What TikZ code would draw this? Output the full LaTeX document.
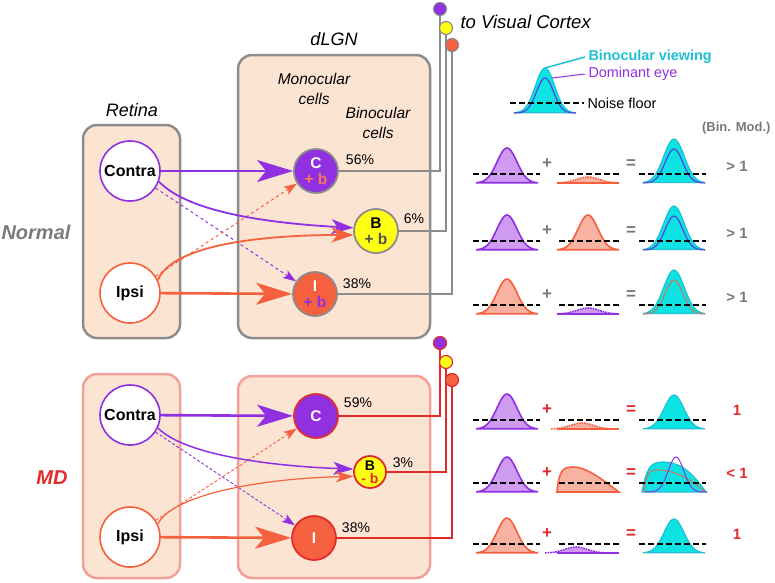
\documentclass[tikz,border=0pt]{standalone}
\usepackage{fontspec}
\setmainfont{Liberation Sans}
\usetikzlibrary{arrows.meta}

\definecolor{peach}{HTML}{FCE4D3}
\definecolor{boxgray}{HTML}{8C8C8C}
\definecolor{mdpink}{HTML}{F2A099}
\definecolor{purp}{HTML}{9030E0}
\definecolor{orng}{HTML}{F5603F}
\definecolor{ylw}{HTML}{FFFF14}
\definecolor{lpurp}{HTML}{CE9BF0}
\definecolor{lorng}{HTML}{F8B2A2}
\definecolor{cyn}{HTML}{0EE3E3}
\definecolor{cynline}{HTML}{1EC0D4}
\definecolor{blu}{HTML}{5048D8}
\definecolor{mix}{HTML}{B08468}
\definecolor{mdred}{HTML}{E22B2B}
\definecolor{txtgray}{HTML}{7A7A7A}
\definecolor{cplus}{HTML}{F87756}
\definecolor{bplus}{HTML}{505050}

% bell curve: centre, base line, height, width
\newcommand{\hump}[4]{plot[domain=#1-31:#1+31,samples=41,smooth] (\x,{#2-#3*exp(-((\x-#1)/#4)^2)})}

\tikzset{
  eye/.style={circle,draw,fill=white,line width=1.6pt,minimum size=60pt,inner sep=0pt,font=\bfseries\fontsize{16}{16}\selectfont},
  cell/.style={circle,draw=boxgray,line width=1.8pt,minimum size=44pt,inner sep=0pt,align=center,font=\bfseries\fontsize{15.5}{16}\selectfont},
  tip/.style={circle,line width=1.2pt,minimum size=13pt,inner sep=0pt},
  bigarr/.style={line width=2.6pt,-{Stealth[length=36pt,width=22pt,inset=9pt]}},
  midarr/.style={line width=1.8pt,-{Stealth[length=22pt,width=15pt,inset=6pt]}},
  dasharr/.style={line width=1pt,dashed,-{Stealth[length=13pt,width=9pt,inset=3pt]}},
  floor/.style={line width=2.4pt,dash pattern=on 5.5pt off 3.5pt},
  pct/.style={font=\fontsize{14}{14}\selectfont},
  pbell/.style={fill=lpurp,draw=purp,line width=1.6pt},
  obell/.style={fill=lorng,draw=orng,line width=1.6pt},
  cbell/.style={fill=cyn,draw=cynline,line width=1.2pt},
}

\begin{document}
\begin{tikzpicture}[x=1pt,y=-1pt]
  \useasboundingbox (0,0) rectangle (775,582);

  % Normal
  \draw[boxgray,fill=peach,line width=2.5pt,rounded corners=14pt] (83,125) rectangle (180,338);
  \draw[boxgray,fill=peach,line width=2.5pt,rounded corners=14pt] (238,55) rectangle (430,338);
  \node[font=\itshape\fontsize{18}{18}\selectfont] (ret1) at (132,110) {Retina};
  \node[font=\itshape\fontsize{18}{18}\selectfont] (dlgn) at (334,39) {dLGN};
  \node[align=center,font=\itshape\fontsize{15.5}{20}\selectfont] (mono) at (314,89) {Monocular\\cells};
  \node[align=center,font=\itshape\fontsize{15.5}{20}\selectfont] (bino) at (378,123) {Binocular\\cells};
  \node[txtgray,font=\bfseries\itshape\fontsize{20}{20}\selectfont] (norm) at (36,232) {Normal};
  \node[anchor=west,font=\itshape\fontsize{18.5}{18}\selectfont] (vc) at (457,22) {to Visual Cortex};

  \node[eye,draw=purp] (contra1) at (130,171) {Contra};
  \node[eye,draw=orng] (ipsi1) at (130,293) {Ipsi};
  \node[cell,fill=purp] (c1) at (316,171) {\textcolor{white}{C}\\\textcolor{cplus}{+ b}};
  \node[cell,fill=ylw] (b1) at (376,231) {B\\\textcolor{bplus}{+ b}};
  \node[cell,fill=orng] (i1) at (315,294) {\textcolor{white}{I}\\\textcolor{purp}{+ b}};
  \node[pct] (p56) at (360,160) {56\%};
  \node[pct] (p6) at (414,219) {6\%};
  \node[pct] (p38) at (357,284) {38\%};

  \draw[bigarr,purp] (contra1) -- (c1);
  \draw[bigarr,orng] (ipsi1) -- (i1);
  \draw[dasharr,purp] (contra1) -- (i1);
  \draw[dasharr,orng] (ipsi1) -- (c1);
  \draw[midarr,purp] (contra1.-20) .. controls +(31,33) and +(-73,-4) .. (b1.172);
  \draw[midarr,orng] (ipsi1.25) .. controls +(15,-37) and +(-83,0) .. (b1.190);

  \coordinate (oc1) at (440,9);
  \coordinate (ob1) at (446,28);
  \coordinate (oi1) at (452,45);
  \draw[boxgray,line width=1.8pt] (c1) -| (oc1);
  \draw[boxgray,line width=1.8pt] (b1) -| (ob1);
  \draw[boxgray,line width=1.8pt] (i1) -| (oi1);
  \node[tip,fill=purp,draw=boxgray] (dc1) at (oc1) {};
  \node[tip,fill=ylw,draw=boxgray] (db1) at (ob1) {};
  \node[tip,fill=orng,draw=boxgray] (di1) at (oi1) {};

  % MD
  \draw[mdpink,fill=peach,line width=2.5pt,rounded corners=14pt] (83,374) rectangle (180,578);
  \draw[mdpink,fill=peach,line width=2.5pt,rounded corners=14pt] (238,376) rectangle (430,578);
  \node[mdred,font=\bfseries\itshape\fontsize{20}{20}\selectfont] (md) at (52,478) {MD};

  \node[eye,draw=purp] (contra2) at (130,415) {Contra};
  \node[eye,draw=orng] (ipsi2) at (130,537) {Ipsi};
  \node[cell,draw=mdred,fill=purp,text=white] (c2) at (316,416) {C};
  \node[cell,draw=mdred,fill=ylw,minimum size=32pt,font=\bfseries\fontsize{14}{13}\selectfont] (b2) at (370,472) {B\\\textcolor{mdred}{- b}};
  \node[cell,draw=mdred,fill=orng,text=white] (i2) at (314,538) {I};
  \node[pct] (p59) at (358,403) {59\%};
  \node[pct] (p3) at (403,463) {3\%};
  \node[pct] (p38b) at (356,528) {38\%};

  \draw[bigarr,purp] (contra2) -- (c2);
  \draw[bigarr,orng] (ipsi2) -- (i2);
  \draw[dasharr,purp,line width=0.9pt,densely dashed] (contra2) -- (i2);
  \draw[dasharr,orng,line width=0.9pt,densely dashed] (ipsi2) -- (c2);
  \draw[purp,line width=1.5pt,-{Stealth[length=20pt,width=13pt,inset=5pt]}] (contra2.-25) .. controls +(27,27) and +(-83,-3) .. (b2.170);
  \draw[orng,line width=1.2pt,-{Stealth[length=18pt,width=11pt,inset=5pt]}] (ipsi2.25) .. controls +(14,-29) and +(-94,2) .. (b2.195);

  \coordinate (oc2) at (440,343);
  \coordinate (ob2) at (446,362);
  \coordinate (oi2) at (452,380);
  \draw[mdred,line width=1.8pt] (c2) -| (oc2);
  \draw[mdred,line width=1.8pt] (b2) -| (ob2);
  \draw[mdred,line width=1.8pt] (i2) -| (oi2);
  \node[tip,fill=purp,draw=mdred] (dc2) at (oc2) {};
  \node[tip,fill=ylw,draw=mdred] (db2) at (ob2) {};
  \node[tip,fill=orng,draw=mdred] (di2) at (oi2) {};

  % legend
  \filldraw[cbell] \hump{545}{113}{45}{13.5} -- cycle;
  \draw[blu,line width=1.2pt] \hump{545}{113}{35}{12};
  \node[anchor=west,cynline,font=\bfseries\fontsize{14.4}{14}\selectfont] (bv) at (585,57) {Binocular viewing};
  \node[anchor=west,purp,font=\fontsize{14.4}{14}\selectfont] (de) at (585,74) {Dominant eye};
  \node[anchor=west,font=\fontsize{14.4}{14}\selectfont] (nf) at (584,103) {Noise floor};
  \coordinate (cpk) at (545,68);
  \coordinate (ppk) at (552,78);
  \coordinate (nl) at (510,103);
  \draw[cynline,line width=1.5pt] (cpk) -- (bv.west);
  \draw[purp,line width=1pt] (ppk) -- (de.west);
  \draw[floor] (nl) -- (nf.west);
  \node[anchor=east,txtgray,font=\bfseries\fontsize{13}{13}\selectfont] (binmod) at (774,128) {(Bin. Mod.)};

  % normal rows
  \filldraw[pbell] \hump{507}{183}{35}{14} -- cycle;
  \fill[lorng] \hump{588}{183}{6}{16} -- cycle;
  \draw[orng,line width=1.6pt,densely dotted] \hump{588}{183}{6}{16};
  \draw[orng,line width=1.4pt] (557,183) -- (619,183);
  \filldraw[cbell] \hump{674}{183}{44}{14.5} -- cycle;
  \draw[blu,line width=1.2pt] \hump{674}{183}{34}{12.5};

  \filldraw[pbell] \hump{507}{250}{35}{14} -- cycle;
  \filldraw[obell] \hump{588}{250}{35}{14} -- cycle;
  \filldraw[cbell] \hump{674}{250}{44}{14.5} -- cycle;
  \draw[blu,line width=1.2pt] \hump{674}{250}{34}{12.5};

  \filldraw[obell] \hump{507}{314}{35}{14} -- cycle;
  \fill[lpurp] \hump{588}{314}{6}{16} -- cycle;
  \draw[purp,line width=1.6pt,densely dotted] \hump{588}{314}{6}{16};
  \draw[purp,line width=1.4pt] (557,314) -- (619,314);
  \filldraw[cbell] \hump{674}{314}{44}{14.5} -- cycle;
  \draw[mix,line width=1.2pt] \hump{674}{314}{34}{12.5};

  % MD rows
  \filldraw[pbell] \hump{507}{429}{35}{14} -- cycle;
  \fill[lorng] \hump{582}{429}{6}{16} -- cycle;
  \draw[orng,line width=1.6pt,densely dotted] \hump{582}{429}{6}{16};
  \draw[orng,line width=1.4pt] (557,429) -- (619,429);
  \filldraw[cbell] \hump{674}{429}{34}{14} -- cycle;

  \filldraw[pbell] \hump{507}{492}{35}{14} -- cycle;
  \filldraw[obell] (557,492) .. controls (559,470) and (563,467) .. (573,467) .. controls (588,467) and (605,482) .. (619,492) -- cycle;
  \filldraw[cbell] (642,492) .. controls (646,470) and (650,462) .. (662,462) .. controls (680,462) and (690,470) .. (706,492) -- cycle;
  \draw[mix,line width=1.2pt] (644,492) .. controls (646,472) and (650,470) .. (658,470) .. controls (675,470) and (692,480) .. (705,492);
  \draw[purp,line width=1pt] \hump{676}{492}{35}{11};

  \filldraw[obell] \hump{507}{553}{35}{14} -- cycle;
  \fill[lpurp] \hump{576}{553}{6}{16} -- cycle;
  \draw[purp,line width=1.6pt,densely dotted] \hump{576}{553}{6}{16};
  \draw[purp,line width=1.4pt] (557,553) -- (619,553);
  \filldraw[cbell] \hump{674}{553}{34}{14} -- cycle;

  \foreach \yb in {183,250,314,429,492,553}{
    \draw[floor] (473,\yb-9) -- (540,\yb-9);
    \draw[floor] (559,\yb-9) -- (619,\yb-9);
    \draw[floor] (639,\yb-9) -- (706,\yb-9);
  }
  \foreach \yb in {183,250,314}{
    \node[txtgray,font=\bfseries\fontsize{17}{17}\selectfont] (plus\yb) at (547,\yb-19) {+};
    \node[txtgray,font=\bfseries\fontsize{17}{17}\selectfont] (eq\yb) at (631,\yb-19) {=};
    \node[txtgray,font=\bfseries\fontsize{15}{15}\selectfont] (res\yb) at (737,\yb-17) {> 1};
  }
  \foreach \yb/\res in {429/1,492/{< 1},553/1}{
    \node[mdred,font=\bfseries\fontsize{17}{17}\selectfont] (plus\yb) at (547,\yb-19) {+};
    \node[mdred,font=\bfseries\fontsize{17}{17}\selectfont] (eq\yb) at (631,\yb-19) {=};
    \node[mdred,font=\bfseries\fontsize{15}{15}\selectfont] (res\yb) at (737,\yb-19) {\res};
  }
\end{tikzpicture}
\end{document}
